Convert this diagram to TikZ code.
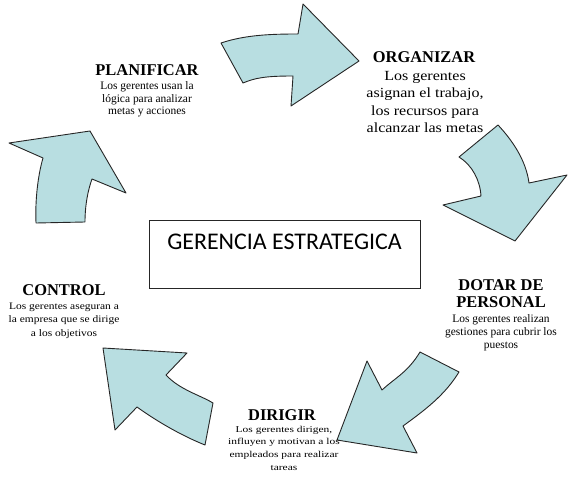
\documentclass[tikz,border=0pt]{standalone}
\usepackage{fontspec}
\setmainfont{Liberation Serif}
\newfontfamily\cajafont{Carlito}
\usetikzlibrary{positioning}
\definecolor{flecha-azul}{RGB}{184,222,225}

\begin{document}
\begin{tikzpicture}[x=1bp,y=-1bp]
  \tikzstyle{flecha} = [fill=flecha-azul, draw=black!85, line width=0.9bp, line join=round]
  \tikzstyle{titulo} = [anchor=base, inner sep=0pt, align=center, font=\fontsize{16.5}{17}\selectfont\bfseries]
  \tikzstyle{texto} = [anchor=base, inner sep=0pt, align=center]   % base = last line
  \useasboundingbox (0,0) rectangle (573,480);
% Centre box.
    \node[draw=black!85, line width=0.9bp, anchor=base, inner sep=0pt, minimum width=271bp,
          text height=29bp, text depth=39bp, font=\cajafont\fontsize{24}{26}\selectfont]
          (gerencia) at (284.5,249) {GERENCIA ESTRATEGICA};
% Arrows of the cycle.
    \filldraw[flecha] (221,43) .. controls (245,35) and (270,34) .. (298,34) -- (303,4) -- (359,61)
        -- (291,106) -- (293,76) .. controls (265,76) and (255,78) .. (243,83) -- cycle;
    \filldraw[flecha] (498,125) .. controls (512,140) and (526,160) .. (529,183) -- (567,175) -- (515,241)
        -- (443,205) -- (481,196) .. controls (480,180) and (472,165) .. (459,157) -- cycle;
    \filldraw[flecha] (420,352) -- (459,372) .. controls (445,395) and (425,410) .. (403,426) -- (417,453)
        -- (337,440) -- (367,361) -- (382,390) .. controls (395,378) and (408,372) .. (420,352) -- cycle;
    \filldraw[flecha] (103,348) -- (187,353) -- (166,375) .. controls (180,390) and (200,395) .. (213,403)
        -- (205,445) .. controls (180,435) and (155,420) .. (137,407) -- (115,430) -- cycle;
    \filldraw[flecha] (9,143) -- (90,131) -- (126,193) -- (92,179) .. controls (88,190) and (85,205) .. (85,222)
        -- (36,223) .. controls (35,200) and (38,175) .. (43,158) -- cycle;
% PLANIFICAR
    \node[titulo] (planificar) at (147,76) {PLANIFICAR};
    \node[texto, font=\fontsize{11.5}{13}\selectfont] (planificar-txt) at (147,115)
        {Los gerentes usan la\\lógica para analizar\\metas  y acciones};
% ORGANIZAR
    \node[titulo] (organizar) at (424,63) {ORGANIZAR};
    \node[texto, font=\fontsize{14}{17.7}\selectfont\addfontfeature{FakeStretch=1.15}] (organizar-txt) at (425,133)
        {Los gerentes\\asignan el trabajo,\\los recursos para\\alcanzar las metas};
% DOTAR DE PERSONAL
    \node[titulo] (dotar) at (501,307) {DOTAR DE\\PERSONAL};
    \node[texto, font=\fontsize{11.5}{13}\selectfont] (dotar-txt) at (501,348)
        {Los gerentes realizan\\gestiones para cubrir los\\puestos};
% DIRIGIR
    \node[titulo] (dirigir) at (282,420) {DIRIGIR};
    \node[texto, font=\fontsize{9}{12.7}\selectfont\addfontfeature{FakeStretch=1.28}] (dirigir-txt) at (284,470)
        {Los gerentes dirigen,\\influyen y motivan a los\\empleados para realizar\\tareas};
% CONTROL
    \node[titulo] (control) at (64,295) {CONTROL};
    \node[texto, font=\fontsize{10}{13.5}\selectfont\addfontfeature{FakeStretch=1.15}] (control-txt) at (64,336)
        {Los gerentes aseguran a\\la empresa que se dirige\\a los objetivos};
  \end{tikzpicture}
\end{document}
